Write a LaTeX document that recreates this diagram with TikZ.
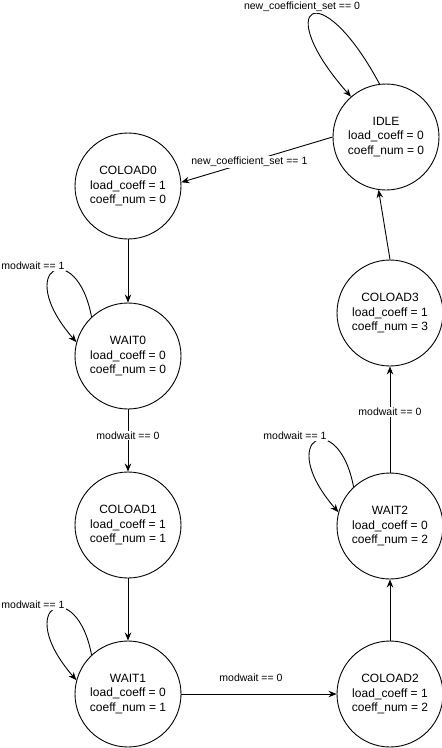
\documentclass[tikz,border=0pt]{standalone}
\usepackage{fontspec}
\setmainfont{Liberation Sans}
\usetikzlibrary{arrows.meta}
\begin{document}
\begin{tikzpicture}[x=1pt,y=-1pt,
  state/.style={circle,draw,line width=0.9pt,minimum size=106pt,inner sep=0pt,align=center,font=\fontsize{12}{14.5}\selectfont},
  lbl/.style={font=\fontsize{10.5}{12}\selectfont,fill=white,inner sep=1pt},
  arr/.style={-{Stealth[length=8pt,width=6.5pt]},line width=0.9pt},
  selfloop/.style={arr,looseness=1}]
\useasboundingbox (0,0) rectangle (442,748);
\node[state] (idle) at (386,137) {IDLE\\load\_coeff = 0\\coeff\_num = 0};
\node[state] (c0) at (128,186) {COLOAD0\\load\_coeff = 1\\coeff\_num = 0};
\node[state] (w0) at (128,356) {WAIT0\\load\_coeff = 0\\coeff\_num = 0};
\node[state] (c1) at (128,525) {COLOAD1\\load\_coeff = 1\\coeff\_num = 1};
\node[state] (w1) at (128,694) {WAIT1\\load\_coeff = 0\\coeff\_num = 1};
\node[state] (c2) at (390,694) {COLOAD2\\load\_coeff = 1\\coeff\_num = 2};
\node[state] (w2) at (390,526) {WAIT2\\load\_coeff = 0\\coeff\_num = 2};
\node[state] (c3) at (390,313) {COLOAD3\\load\_coeff = 1\\coeff\_num = 3};

% self loop IDLE
\draw[selfloop] (idle.97) .. controls +(-60,-112) and +(-80,-90) .. (idle.131);
\node[lbl] (lidle) at (302,7) {new\_coefficient\_set == 0};

% IDLE -> COLOAD0
\draw[arr] (idle.180) -- (c0.4) node[lbl,pos=0.55] (l1) {new\_coefficient\_set == 1};

% COLOAD0 -> WAIT0
\draw[arr] (c0) -- (w0);
% WAIT0 loop
\draw[selfloop] (w0.133) .. controls +(-15,-80) and +(-65,-75) .. (w0.165);
\node[lbl] (lw0) at (33,266) {modwait == 1};

% WAIT0 -> COLOAD1
\draw[arr] (w0) -- (c1) node[lbl,pos=0.42] (lw0c1) {modwait == 0};

% COLOAD1 -> WAIT1
\draw[arr] (c1) -- (w1);
% WAIT1 loop
\draw[selfloop] (w1.133) .. controls +(-15,-80) and +(-65,-75) .. (w1.165);
\node[lbl] (lw1) at (33,605) {modwait == 1};

% WAIT1 -> COLOAD2
\draw[arr] (w1) -- (c2);
\node[lbl] (lw1c2) at (251,678) {modwait == 0};

% COLOAD2 -> WAIT2
\draw[arr] (c2) -- (w2);
% WAIT2 loop
\draw[selfloop] (w2.133) .. controls +(-15,-80) and +(-65,-75) .. (w2.165);
\node[lbl] (lw2) at (295,436) {modwait == 1};

% WAIT2 -> COLOAD3
\draw[arr] (w2) -- (c3) node[lbl,pos=0.57] (lw2c3) {modwait == 0};

% COLOAD3 -> IDLE
\draw[arr] (c3.north) -- (idle.262);
\end{tikzpicture}
\end{document}
